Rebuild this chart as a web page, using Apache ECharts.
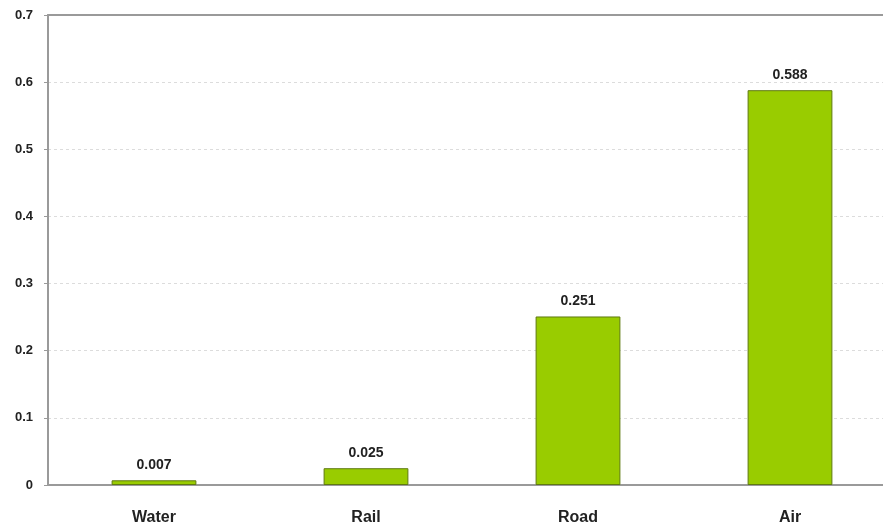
<!DOCTYPE html>
<html><head><meta charset="utf-8">
<script src="https://cdn.jsdelivr.net/npm/echarts@6/dist/echarts.min.js"></script>
<style>html,body{margin:0;padding:0;background:#fff;overflow:hidden}#c{width:900px;height:526px}</style>
</head><body><div id="c"></div>
<script>
var categories = ['Water', 'Rail', 'Road', 'Air'];
var values = [0.007, 0.025, 0.251, 0.588];
var yTicks = [0, 0.1, 0.2, 0.3, 0.4, 0.5, 0.6, 0.7];

var chart = echarts.init(document.getElementById('c'));
chart.setOption({
  animation: false,
  grid: { left: 48, right: 4, top: 15, bottom: 40, containLabel: false },
  xAxis: [{
    type: 'category', data: categories,
    axisLine: { lineStyle: { color: '#9a9a9a', width: 2 } },
    axisTick: { show: false },
    axisLabel: { color: '#222', fontFamily: 'Arial, Liberation Sans', fontWeight: 'bold', fontSize: 16, margin: 25 }
  }, {
    type: 'category', data: categories, position: 'top',
    axisLine: { lineStyle: { color: '#9a9a9a', width: 2 } },
    axisTick: { show: false }, axisLabel: { show: false }
  }],
  yAxis: {
    type: 'value', min: 0, max: 0.7, interval: 0.1,
    axisLine: { show: true, lineStyle: { color: '#9a9a9a', width: 2 } },
    axisTick: { show: true, length: 4, lineStyle: { color: '#9a9a9a' } },
    axisLabel: {
      color: '#222', fontFamily: 'Arial, Liberation Sans', fontWeight: 'bold', fontSize: 13, margin: 15,
      formatter: function (v) { var r = Math.round(v * 10) / 10; return yTicks.indexOf(r) >= 0 ? String(r) : ''; }
    },
    splitLine: { show: true, lineStyle: { color: '#dcdcdc', type: [3, 3], width: 1 } }
  },
  series: [{
    type: 'bar', data: values, barWidth: '40%',
    itemStyle: { color: '#99cc00', borderColor: '#5f7a10', borderWidth: 1 },
    label: {
      show: true, position: 'top', distance: 8, color: '#222',
      fontFamily: 'Arial, Liberation Sans', fontWeight: 'bold', fontSize: 14,
      formatter: function (p) { return p.value.toFixed(3); }
    }
  }]
});
</script></body></html>
